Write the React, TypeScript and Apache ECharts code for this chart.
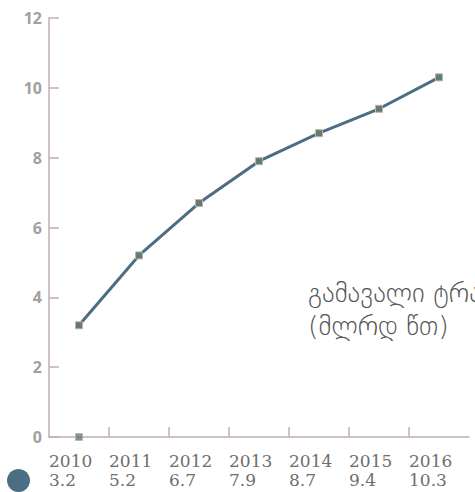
import React, { useEffect, useRef } from "react";
import * as echarts from "echarts";

const years = ["2010", "2011", "2012", "2013", "2014", "2015", "2016"];
const traffic = [3.2, 5.2, 6.7, 7.9, 8.7, 9.4, 10.3];
const baselineMarker = [0, null, null, null, null, null, null];
const yTicks = { min: 0, max: 12, interval: 2 };
const seriesName = "გამავალი ტრაფიკი";
const unitLabel = "(მლრდ წთ)";

const AXIS_COLOR = "#bfb0af";
const LINE_COLOR = "#4b6e82";

export default function App() {
  const ref = useRef<HTMLDivElement>(null);
  useEffect(() => {
    if (!ref.current) return;
    const chart = echarts.init(ref.current, null, { renderer: "svg" });
    const boundaryCats = [...years, ""];
    chart.setOption({
      animation: false,
      grid: { left: 49, right: 6, top: 18, bottom: 55, containLabel: false },
      legend: {
        show: true,
        left: 7,
        top: 469,
        icon: "circle",
        itemWidth: 23,
        itemHeight: 23,
        padding: 0,
        data: [seriesName],
        formatter: () => "",
        itemStyle: { color: LINE_COLOR, borderWidth: 0 },
        selectedMode: false,
      },
      xAxis: [
        {
          type: "category",
          data: years,
          boundaryGap: true,
          axisLine: { show: true, lineStyle: { color: AXIS_COLOR, width: 1.5 } },
          axisTick: { show: false },
          axisLabel: { show: false },
        },
        {
          type: "category",
          data: boundaryCats,
          boundaryGap: false,
          position: "bottom",
          offset: 0,
          axisLine: { show: false },
          axisTick: {
            show: true,
            inside: true,
            length: 10,
            interval: (i: number) => i > 0 && i < years.length,
            lineStyle: { color: AXIS_COLOR, width: 1.5 },
          },
          axisLabel: {
            show: true,
            interval: 0,
            align: "left",
            margin: 14,
            formatter: (v: string, i: number) =>
              v ? `{y|${v}}\n{v|${traffic[i]}}` : "",
            rich: {
              y: { fontFamily: "DejaVu Serif", fontSize: 17, color: "#6e6e6e", lineHeight: 19 },
              v: { fontFamily: "DejaVu Serif", fontSize: 17, color: "#6e6e6e", lineHeight: 19 },
            },
          },
        },
      ],
      yAxis: {
        type: "value",
        min: yTicks.min,
        max: yTicks.max,
        interval: yTicks.interval,
        splitLine: { show: false },
        axisLine: { show: true, lineStyle: { color: AXIS_COLOR, width: 1.5 } },
        axisTick: { show: true, inside: true, length: 10, lineStyle: { color: AXIS_COLOR, width: 1.5 } },
        axisLabel: {
          margin: 7,
          fontFamily: "Open Sans",
          fontWeight: "bold",
          fontSize: 16,
          color: "#a0a0a0",
        },
      },
      graphic: [
        {
          type: "text",
          left: 308,
          top: 276,
          style: {
            text: `${seriesName}\n${unitLabel}`,
            fontFamily: "DejaVu Sans",
            fontWeight: 200,
            fontSize: 27,
            lineHeight: 33,
            fill: "#555555",
          },
        },
      ],
      series: [
        {
          name: seriesName,
          type: "line",
          data: traffic,
          xAxisIndex: 0,
          symbol: "rect",
          symbolSize: 7,
          showSymbol: true,
          lineStyle: { color: LINE_COLOR, width: 3 },
          itemStyle: { color: "#5f7d70", borderColor: "#c4aeac", borderWidth: 1 },
          z: 3,
        },
        {
          name: "baseline",
          type: "scatter",
          data: baselineMarker,
          xAxisIndex: 0,
          symbol: "rect",
          symbolSize: 7,
          itemStyle: { color: "#5f7d70", borderColor: "#c4aeac", borderWidth: 1 },
          z: 4,
        },
      ],
    });
    return () => chart.dispose();
  }, []);
  return (
    <div
      ref={ref}
      style={{ position: "absolute", left: 0, top: 0, width: 475, height: 492 }}
    />
  );
}
